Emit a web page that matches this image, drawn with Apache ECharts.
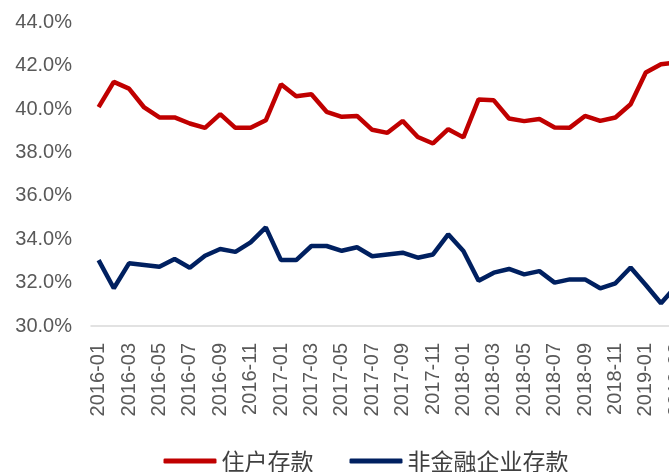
<!DOCTYPE html>
<html>
<head>
<meta charset="utf-8">
<script src="https://cdn.jsdelivr.net/npm/echarts@6/dist/echarts.min.js"></script>
<style>
html,body{margin:0;padding:0;background:#fff;overflow:hidden;width:669px;height:472px;}
#c{width:732px;height:472px;}
</style>
</head>
<body>
<div id="c"></div>
<script>
const categories = [
 '2016-01','2016-02','2016-03','2016-04','2016-05','2016-06','2016-07','2016-08','2016-09','2016-10','2016-11','2016-12',
 '2017-01','2017-02','2017-03','2017-04','2017-05','2017-06','2017-07','2017-08','2017-09','2017-10','2017-11','2017-12',
 '2018-01','2018-02','2018-03','2018-04','2018-05','2018-06','2018-07','2018-08','2018-09','2018-10','2018-11','2018-12',
 '2019-01','2019-02','2019-03'
];
const householdDeposits = [
 40.10, 41.26, 40.95, 40.08, 39.62, 39.62, 39.34, 39.14, 39.77, 39.14, 39.14, 39.49,
 41.15, 40.60, 40.69, 39.88, 39.65, 39.69, 39.05, 38.91, 39.46, 38.72, 38.42, 39.08,
 38.70, 40.45, 40.41, 39.57, 39.45, 39.55, 39.16, 39.15, 39.69, 39.46, 39.62, 40.23,
 41.69, 42.07, 42.15
];
const nonFinancialCorpDeposits = [
 33.04, 31.74, 32.89, 32.81, 32.73, 33.09, 32.69, 33.24, 33.55, 33.42, 33.86, 34.55,
 33.04, 33.04, 33.69, 33.69, 33.47, 33.63, 33.22, 33.30, 33.38, 33.15, 33.30, 34.23,
 33.46, 32.09, 32.46, 32.63, 32.38, 32.53, 32.00, 32.15, 32.15, 31.74, 31.97, 32.70,
 31.89, 31.05, 31.84
];
const seriesNames = ['住户存款', '非金融企业存款'];
const yMin = 30, yMax = 44, yStep = 2;

const chart = echarts.init(document.getElementById('c'), null, {renderer: 'canvas'});
chart.setOption({
  animation: false,
  backgroundColor: '#ffffff',
  grid: {left: 91, right: 48.2, top: 22.5, bottom: 146},
  legend: {
    data: seriesNames,
    left: 'center',
    top: 446,
    padding: 0,
    icon: 'roundRect',
    itemWidth: 53,
    itemHeight: 5,
    itemGap: 36,
    textStyle: {fontFamily: 'Noto Sans CJK SC', fontSize: 23, lineHeight: 30, color: '#404040'}
  },
  xAxis: {
    type: 'category',
    data: categories,
    boundaryGap: true,
    axisLine: {lineStyle: {color: '#D9D9D9', width: 1.5}},
    axisTick: {interval: 1, length: 6, lineStyle: {color: '#D9D9D9', width: 1.5}},
    axisLabel: {interval: 1, rotate: 90, margin: 17, fontFamily: 'Liberation Sans', fontSize: 20, color: '#595959'},
    splitLine: {show: false}
  },
  yAxis: {
    type: 'value',
    min: yMin, max: yMax, interval: yStep,
    axisLine: {show: false},
    axisTick: {show: false},
    splitLine: {show: false},
    axisLabel: {margin: 19, fontFamily: 'Liberation Sans', fontSize: 20, color: '#595959',
      formatter: v => v.toFixed(1) + '%'}
  },
  series: [
    {name: seriesNames[0], type: 'line', data: householdDeposits, symbol: 'none',
     lineStyle: {color: '#C00000', width: 4.5}, itemStyle: {color: '#C00000'}},
    {name: seriesNames[1], type: 'line', data: nonFinancialCorpDeposits, symbol: 'none',
     lineStyle: {color: '#002060', width: 4.5}, itemStyle: {color: '#002060'}}
  ]
});
</script>
</body>
</html>
